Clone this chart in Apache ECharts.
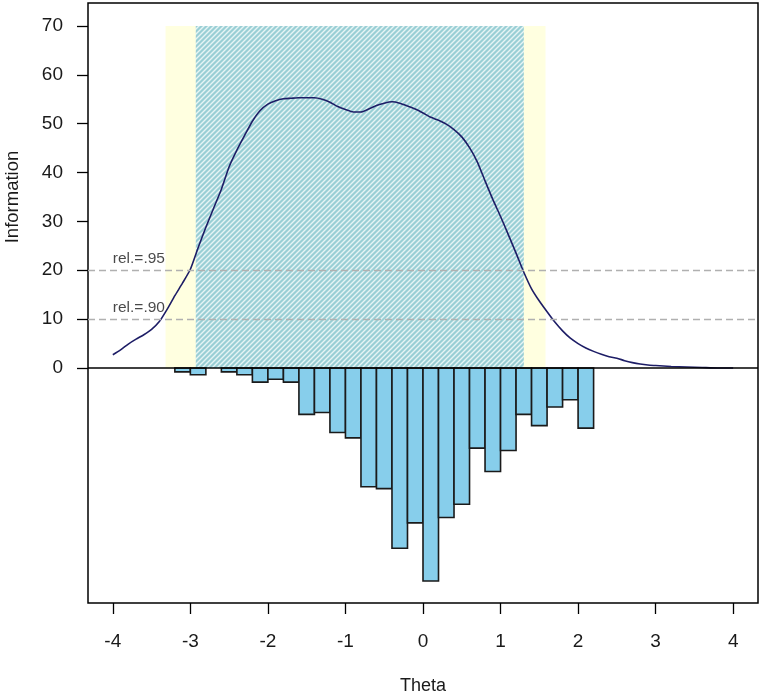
<!DOCTYPE html>
<html><head><meta charset="utf-8">
<script src="https://cdn.jsdelivr.net/npm/echarts@6/dist/echarts.min.js"></script>
<style>html,body{margin:0;padding:0;background:#fff}#c{width:762px;height:700px}</style>
</head><body><div id="c"></div>
<script>
// ---- data ----
const thetaTicks = [-4, -3, -2, -1, 0, 1, 2, 3, 4];
const infoTicks = [0, 10, 20, 30, 40, 50, 60, 70];
const curveTheta = [-4.0,-3.9,-3.8,-3.7,-3.6,-3.5,-3.4,-3.3,-3.2,-3.1,-3.0,-2.9,-2.8,-2.7,-2.6,-2.5,-2.4,-2.3,-2.2,-2.1,-2.0,-1.9,-1.8,-1.7,-1.6,-1.5,-1.4,-1.3,-1.2,-1.1,-1.0,-0.9,-0.8,-0.7,-0.6,-0.5,-0.4,-0.3,-0.2,-0.1,0.0,0.1,0.2,0.3,0.4,0.5,0.6,0.7,0.8,0.9,1.0,1.1,1.2,1.3,1.4,1.5,1.6,1.7,1.8,1.9,2.0,2.1,2.2,2.3,2.4,2.5,2.6,2.7,2.8,2.9,3.0,3.2,3.4,3.6,3.8,4.0];
const curveInfo = [2.7,3.7,4.9,5.9,6.8,7.9,9.5,12.0,14.8,17.4,20.2,24.6,28.8,32.7,36.6,41.2,44.6,47.6,50.5,52.7,54.0,54.7,55.1,55.2,55.3,55.3,55.3,55.0,54.4,53.5,52.9,52.4,52.4,53.0,53.7,54.2,54.5,54.2,53.6,53.0,52.2,51.3,50.7,49.9,48.8,47.3,45.1,42.2,38.3,34.5,31.0,27.3,23.5,19.6,16.2,13.7,11.5,9.4,7.6,6.1,5.0,4.1,3.4,2.8,2.3,2.0,1.5,1.1,0.8,0.6,0.5,0.3,0.2,0.1,0.0,0.0];
const histCenters = [-3.1,-2.9,-2.5,-2.3,-2.1,-1.9,-1.7,-1.5,-1.3,-1.1,-0.9,-0.7,-0.5,-0.3,-0.1,0.1,0.3,0.5,0.7,0.9,1.1,1.3,1.5,1.7,1.9,2.1];
const histDepth = [0.8,1.4,0.8,1.4,2.9,2.3,2.9,9.5,9.1,13.2,14.3,24.3,24.7,36.9,31.7,43.6,30.6,27.9,16.4,21.2,16.9,9.5,11.8,8.0,6.5,12.3];
const histBinWidth = 0.2;
const band90 = [-3.32, 1.58];
const band95 = [-2.93, 1.30];
const bandTop = 70;
const relLevels = [20, 10];
const relLabels = ['rel.=.95', 'rel.=.90'];
const relLabelX = -4;
const xRange = [-4.32, 4.32];
const yRange = [-48.1, 74.7];

// ---- chart ----
const FONT = '"Liberation Sans", Arial, sans-serif';
function hatch() {
  const s = 5;
  const c = document.createElement('canvas'); c.width = s; c.height = s;
  const g = c.getContext('2d');
  g.fillStyle = '#9acfd5'; g.fillRect(0, 0, s, s);
  g.strokeStyle = '#e6f4f5'; g.lineWidth = 1.4;
  g.beginPath();
  g.moveTo(-1, s + 1); g.lineTo(s + 1, -1);
  g.moveTo(-1, 1); g.lineTo(1, -1);
  g.moveTo(s - 1, s + 1); g.lineTo(s + 1, s - 1);
  g.stroke();
  return c;
}
const chart = echarts.init(document.getElementById('c'), null, {renderer: 'canvas'});
const bandData = [
  [band90[0], band90[1], bandTop, 0],
  [band95[0], band95[1], bandTop, 1]
];
const bandFills = ['#ffffe0', {image: hatch(), repeat: 'repeat'}];

chart.setOption({
  animation: false,
  backgroundColor: '#fff',
  grid: {left: 88, right: 4, top: 3, bottom: 97, show: true, borderColor: '#000', borderWidth: 1.5, backgroundColor: 'transparent'},
  xAxis: {
    type: 'value', min: xRange[0], max: xRange[1],
    position: 'bottom',
    axisLine: {show: false, onZero: false},
    splitLine: {show: false},
    axisTick: {show: true, customValues: thetaTicks, length: 11, lineStyle: {color: '#000', width: 1.3}},
    axisLabel: {customValues: thetaTicks, margin: 29, color: '#1a1a1a', fontSize: 19, fontFamily: FONT},
    name: 'Theta', nameLocation: 'middle', nameGap: 74,
    nameTextStyle: {color: '#1a1a1a', fontSize: 18, fontFamily: FONT}
  },
  yAxis: {
    type: 'value', min: yRange[0], max: yRange[1],
    position: 'left',
    axisLine: {show: false, onZero: false},
    splitLine: {show: false},
    axisTick: {show: true, customValues: infoTicks, length: 11, lineStyle: {color: '#000', width: 1.3}},
    axisLabel: {customValues: infoTicks, margin: 25, color: '#1a1a1a', fontSize: 19, fontFamily: FONT}
  },
  graphic: [{
    type: 'text', x: 13, y: 197, rotation: Math.PI / 2,
    style: {text: 'Information', font: '18.5px ' + FONT, fill: '#1a1a1a', align: 'center', verticalAlign: 'middle'}
  }],
  series: [
    {
      type: 'custom', z: 1, silent: true,
      data: bandData,
      renderItem: function (params, api) {
        const p0 = api.coord([api.value(0), 0]);
        const p1 = api.coord([api.value(1), api.value(2)]);
        return {type: 'rect', shape: {x: p0[0], y: p1[1], width: p1[0] - p0[0], height: p0[1] - p1[1]},
          style: {fill: bandFills[api.value(3)]}};
      }
    },
    {
      type: 'custom', z: 2, silent: true,
      data: histCenters.map((c, i) => [c, histDepth[i]]),
      renderItem: function (params, api) {
        const c = api.value(0), d = api.value(1);
        const p0 = api.coord([c - histBinWidth / 2, 0]);
        const p1 = api.coord([c + histBinWidth / 2, -d]);
        return {type: 'rect', shape: {x: p0[0], y: p0[1], width: p1[0] - p0[0], height: p1[1] - p0[1]},
          style: {fill: '#87ceeb', stroke: '#1a1a1a', lineWidth: 1.6}};
      }
    },
    {
      type: 'line', z: 3, silent: true,
      data: curveTheta.map((t, i) => [t, curveInfo[i]]),
      symbol: 'none', smooth: 0.2,
      lineStyle: {color: '#1d1d66', width: 1.6},
      markLine: {
        silent: true, symbol: 'none', label: {show: false},
        data: [
          {yAxis: relLevels[0], lineStyle: {color: '#b0b0b0', type: [7, 4], width: 1.3}},
          {yAxis: relLevels[1], lineStyle: {color: '#b0b0b0', type: [7, 4], width: 1.3}},
          {yAxis: 0, lineStyle: {color: '#000', type: 'solid', width: 1.5}}
        ]
      }
    },
    {
      type: 'scatter', z: 4, silent: true,
      symbolSize: 1, itemStyle: {color: 'rgba(0,0,0,0)'},
      data: relLevels.map((v, i) => ({value: [relLabelX, v], label: {formatter: relLabels[i]}})),
      label: {show: true, position: 'top', align: 'left', distance: 3, color: '#1a1a1a', fontSize: 15.5, fontFamily: FONT}
    }
  ]
});
</script>
</body></html>
